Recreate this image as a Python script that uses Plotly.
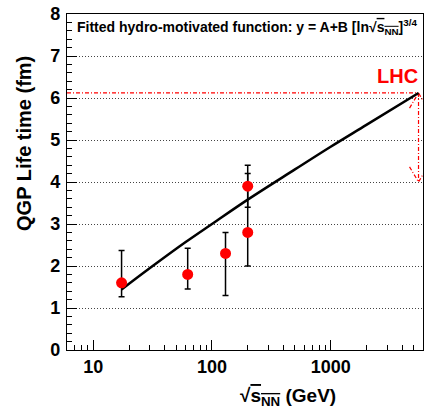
import plotly.graph_objects as go
import math

# ---- data ----
energies = [17.3, 62.4, 130, 200, 200]          # sqrt(s_NN) in GeV
lifetimes = [1.6, 1.8, 2.3, 3.9, 2.8]          # QGP life time (fm)
err_plus = [0.77, 0.62, 0.5, 0.5, 1.4]
err_minus = [0.33, 0.35, 1.0, 0.5, 0.8]

fit_x = [17.3, 30, 60, 100, 200, 500, 1000, 2000, 5500]
fit_y = [1.44, 1.95, 2.57, 3.00, 3.58, 4.30, 4.84, 5.36, 6.12]

lhc_energy = 5500
lhc_tau = 6.12
lhc_tau_low = 4.0
x_range = [6, 6000]
y_range = [0, 8]

FONT = "Liberation Sans, Arial, sans-serif"
RED = "#ff0000"

fig = go.Figure()

# LHC horizontal dash-dot line
fig.add_trace(go.Scatter(x=[x_range[0], lhc_energy], y=[lhc_tau, lhc_tau], mode="lines",
                         line=dict(color=RED, width=1.3, dash="4px,2px,1px,2px"),
                         hoverinfo="skip", showlegend=False))
# LHC vertical double arrow (dash-dot)
hx_l, hx_r = lhc_energy * 0.84, lhc_energy * 1.19
hy = 0.36
fig.add_trace(go.Scatter(
    x=[lhc_energy, lhc_energy, None, hx_l, lhc_energy, hx_r, None, hx_l, lhc_energy, hx_r],
    y=[lhc_tau, lhc_tau_low, None, lhc_tau - hy, lhc_tau, lhc_tau - hy, None,
       lhc_tau_low + hy, lhc_tau_low, lhc_tau_low + hy],
    mode="lines", line=dict(color=RED, width=1.2, dash="4px,2px,1px,2px"),
    hoverinfo="skip", showlegend=False))

# fit curve
fig.add_trace(go.Scatter(x=fit_x, y=fit_y, mode="lines", line=dict(color="black", width=2.5),
                         line_shape="spline", showlegend=False))

# data points
fig.add_trace(go.Scatter(x=energies, y=lifetimes, mode="markers",
                         marker=dict(color=RED, size=11, line=dict(width=0)),
                         error_y=dict(type="data", symmetric=False, array=err_plus,
                                      arrayminus=err_minus, color="black", thickness=1.5, width=3),
                         showlegend=False))

fig.update_xaxes(type="log", range=[math.log10(x_range[0]), math.log10(x_range[1])],
                 tickvals=[10, 100, 1000], ticktext=["10", "100", "1000"],
                 ticks="inside", ticklen=10, tickwidth=1, tickcolor="black",
                 minor=dict(ticks="inside", ticklen=5, dtick="D1", tickcolor="black", showgrid=False),
                 showline=True, linecolor="black", linewidth=1.2, mirror=True,
                 showgrid=False, zeroline=False,
                 tickfont=dict(family=FONT, size=18, color="black", weight="bold"))
fig.update_yaxes(range=y_range, dtick=1, ticks="inside", ticklen=10, tickwidth=1, tickcolor="black",
                 minor=dict(ticks="inside", ticklen=5, dtick=0.2, tickcolor="black", showgrid=False),
                 showline=True, linecolor="black", linewidth=1.2, mirror=True,
                 showgrid=True, gridcolor="#444444", griddash="1px,2px", gridwidth=1, zeroline=False,
                 ticklabelstandoff=2,
                 tickfont=dict(family=FONT, size=18, color="black", weight="bold"))

annotations = [
    dict(text="Fitted hydro-motivated function: y = A+B [ln√<span style='text-decoration:overline'>s<sub>NN</sub></span>]<sup>3/4</sup>",
         xref="paper", yref="paper", x=0.0225, y=0.961, xanchor="left", yanchor="middle",
         showarrow=False, font=dict(family=FONT, size=14, color="black", weight="bold")),
    dict(text="LHC", xref="paper", yref="paper", x=0.927, y=0.815, xanchor="center", yanchor="middle",
         showarrow=False, font=dict(family=FONT, size=20, color=RED, weight="bold")),
    dict(text="QGP Life time (fm)", xref="paper", yref="paper", x=-0.121, y=0.616,
         xanchor="center", yanchor="middle", textangle=-90, showarrow=False,
         font=dict(family=FONT, size=20, color="black", weight="bold")),
    dict(text="√<span style='text-decoration:overline'>s<sub>NN</sub></span> (GeV)",
         xref="paper", yref="paper", x=(288 - 67) / 356, y=(350 - 397) / 336,
         xanchor="center", yanchor="middle", showarrow=False,
         font=dict(family=FONT, size=19, color="black", weight="bold")),
]

fig.update_layout(width=424, height=412, margin=dict(l=67, r=1, t=14, b=62),
                  paper_bgcolor="white", plot_bgcolor="white",
                  annotations=annotations, showlegend=False)

fig.write_html("out.html", config={"displayModeBar": False},
               post_script="document.body.style.margin='0';document.body.style.overflow='hidden';")
